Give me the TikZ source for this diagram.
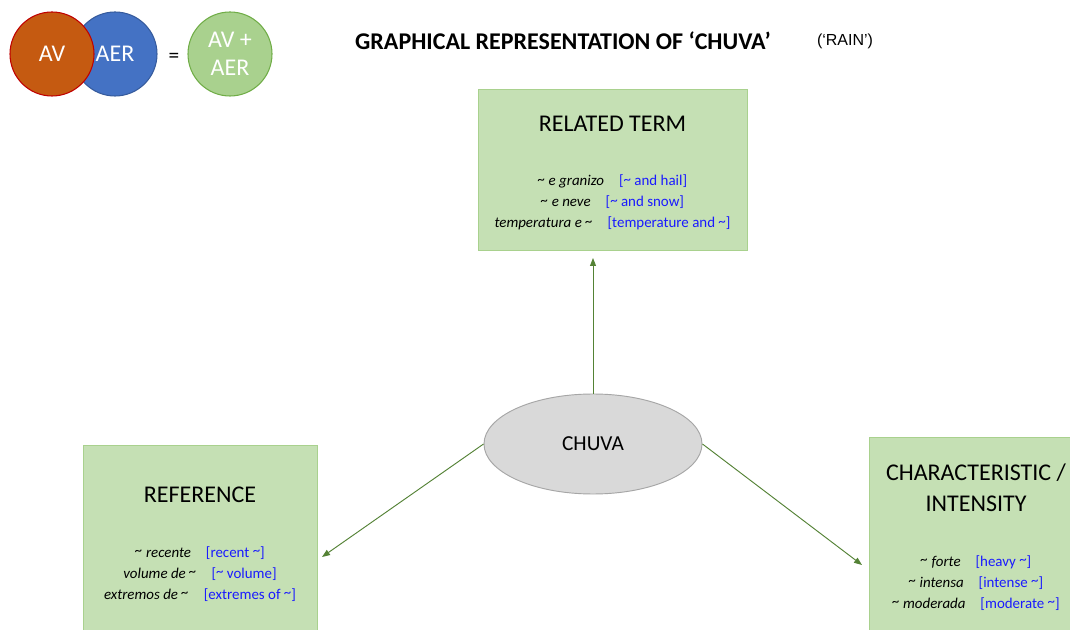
\documentclass[tikz,border=0pt]{standalone}
\usepackage{fontspec}
\setmainfont{Carlito}
\newfontfamily\arialf{Liberation Sans}
\usetikzlibrary{shapes.geometric,arrows.meta}
\definecolor{avc}{HTML}{C55A11}
\definecolor{avb}{HTML}{C00000}
\definecolor{aerc}{HTML}{4472C4}
\definecolor{sumc}{HTML}{A9D18E}
\definecolor{sumb}{HTML}{70AD47}
\definecolor{boxc}{HTML}{C5E0B4}
\definecolor{boxb}{HTML}{A9D18E}
\definecolor{arrc}{HTML}{548235}
\definecolor{engc}{HTML}{1A1AFF}
\definecolor{elc}{HTML}{D9D9D9}
\definecolor{elb}{HTML}{A6A6A6}
\tikzset{
  circ/.style={circle, minimum size=63pt, inner sep=0pt, line width=0.8pt, text=white, font=\fontsize{18}{21}\selectfont, align=center},
  gbox/.style={rectangle, fill=boxc, draw=boxb, line width=0.6pt},
  head/.style={font=\fontsize{18}{23.5}\selectfont, align=center, inner sep=0pt},
  lines/.style={font=\fontsize{11.2}{15.75}\selectfont, align=center, inner sep=0pt},
  arr/.style={draw=arrc, line width=0.7pt, -{Triangle[length=6pt,width=4.5pt]}}
}
\newcommand{\pt}[1]{\textit{#1}}
\newcommand{\en}[1]{\textcolor{engc}{#1}}
\newcommand{\tl}{\raisebox{0.2ex}{\textasciitilde}}
\begin{document}
\begin{tikzpicture}[x=0.75pt,y=-0.75pt]
\useasboundingbox (0,0) rectangle (1070,630);
\clip (0,0) rectangle (1070,630);
\fill[white] (0,0) rectangle (1070,630);
% legend
\node[circ, fill=aerc, draw=aerc!80!black] (aer) at (115,54) {};
\node[circ, fill=avc, draw=avb] (av) at (52,54) {AV};
\node[inner sep=0pt, text=white, font=\fontsize{18}{21}\selectfont] (aerl) at (115,54) {AER};
\node[inner sep=0pt, font=\fontsize{16}{18}\selectfont] (eq) at (174,58) {=};
\node[circ, fill=sumc, draw=sumb] (sum) at (230,54) {AV +\\AER};
% title
\node[inner sep=0pt, font=\bfseries\fontsize{18}{20}\selectfont] (title) at (563,41) {GRAPHICAL REPRESENTATION OF ‘CHUVA’};
\node[inner sep=0pt, font=\arialf\fontsize{12}{14}\selectfont] (rain) at (845,41) {(‘RAIN’)};
% boxes
\node[gbox, minimum width=201.75pt, minimum height=120.75pt] (rel) at (612.5,169.5) {};
\node[head] (relh) at (612.5,124) {RELATED TERM};
\node[lines] (rell) at (612.5,202.5) {\pt{\tl{} e granizo}\quad\en{[\tl{} and hail]}\\
\pt{\tl{} e neve}\quad\en{[\tl{} and snow]}\\
\pt{temperatura e \tl}\quad\en{[temperature and \tl]}};
\node[gbox, minimum width=175.5pt, minimum height=140pt] (ref) at (200,538.5) {};
\node[head] (refh) at (200,495) {REFERENCE};
\node[lines] (refl) at (200,574) {\pt{\tl{} recente}\quad\en{[recent \tl]}\\
\pt{volume de \tl}\quad\en{[\tl{} volume]}\\
\pt{extremos de \tl}\quad\en{[extremes of \tl]}};
\node[gbox, minimum width=152.25pt, minimum height=146pt] (chi) at (970.5,535) {};
\node[head] (chih) at (976,487.5) {CHARACTERISTIC /\\INTENSITY};
\node[lines] (chil) at (976,583) {\pt{\tl{} forte}\quad\en{[heavy \tl]}\\
\pt{\tl{} intensa}\quad\en{[intense \tl]}\\
\pt{\tl{} moderada}\quad\en{[moderate \tl]}};
% center
\node[ellipse, fill=elc, draw=elb, line width=0.7pt, minimum width=163.5pt, minimum height=75pt, inner sep=0pt, font=\fontsize{16}{18}\selectfont] (chuva) at (593,444) {CHUVA};
% arrows
\coordinate (relTip) at (593,258);
\coordinate (refTip) at (322,557);
\coordinate (chiTip) at (862,565);
\draw[arr] (chuva.north) -- (relTip);
\draw[arr] (chuva.west) -- (refTip);
\draw[arr] (chuva.east) -- (chiTip);
\end{tikzpicture}
\end{document}
